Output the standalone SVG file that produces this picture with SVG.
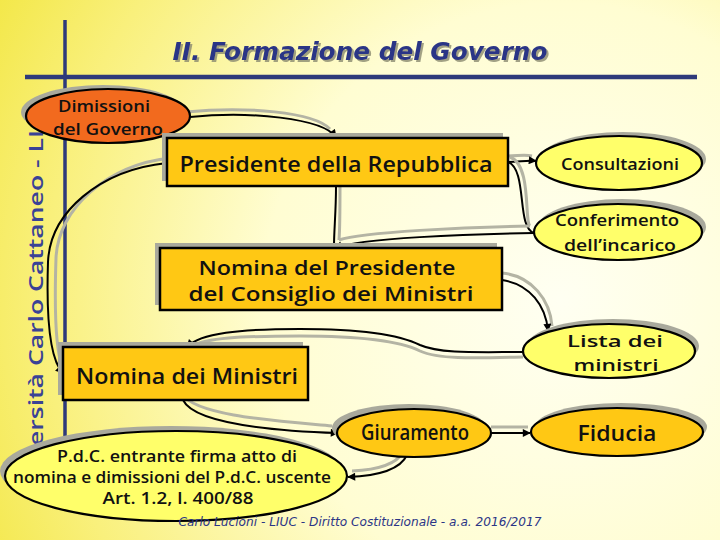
<svg xmlns="http://www.w3.org/2000/svg" width="720" height="540" viewBox="0 0 720 540">
<defs>
<radialGradient id="bg" cx="560" cy="300" r="660" gradientUnits="userSpaceOnUse">
<stop offset="0" stop-color="#FFFFF2"/>
<stop offset="0.45" stop-color="#FFFDD2"/>
<stop offset="0.78" stop-color="#F9F07C"/>
<stop offset="1" stop-color="#F2E640"/>
</radialGradient>
<marker id="arr" viewBox="0 0 10 10" refX="9" refY="5" markerWidth="9" markerHeight="8" markerUnits="userSpaceOnUse" orient="auto">
<path d="M0,0 L10,5 L0,10 Z" fill="#000"/>
</marker>
<filter id="tsh" x="-5%" y="-20%" width="110%" height="140%">
<feDropShadow dx="2" dy="2" stdDeviation="0.6" flood-color="#8a8a70" flood-opacity="0.8"/>
</filter>
</defs>
<style>
.lbl{font-family:"Open Sans","DejaVu Sans","Liberation Sans",sans-serif;font-weight:600;fill:#111;text-anchor:middle}
.box{fill:#FFC814;stroke:#000;stroke-width:2.5}
.sh{fill:#A9A99C}
.ely{fill:#FFFF6A;stroke:#000;stroke-width:2.2}
.elg{fill:#FFC814;stroke:#000;stroke-width:2.2}
.ln{fill:none;stroke:#000;stroke-width:2}
.gl{fill:none;stroke:#B4B4A4;stroke-width:3}
</style>
<rect width="720" height="540" fill="url(#bg)"/>
<g id="frame">
<line x1="65" y1="20" x2="65" y2="446" stroke="#2E3A7A" stroke-width="3.5"/>
<line x1="25" y1="77" x2="697" y2="77" stroke="#2E3A7A" stroke-width="4.5"/>
<text x="360" y="60" font-family="'DejaVu Sans',sans-serif" font-size="25" font-weight="bold" font-style="italic" fill="#2B3586" text-anchor="middle" textLength="375" lengthAdjust="spacingAndGlyphs" filter="url(#tsh)">II. Formazione del Governo</text>
<text transform="translate(43,446) rotate(-90)" font-family="'Open Sans','DejaVu Sans',sans-serif" font-size="20" font-weight="600" fill="#3A4296" textLength="316" lengthAdjust="spacingAndGlyphs">ersità Carlo Cattaneo - LI</text>
</g>
<g id="connectors">
<path class="gl" d="M186,112 C246,106 314,112 330,129"/>
<path class="ln" d="M190,117 C250,111 322,118 336,137" marker-end="url(#arr)"/>
<path class="gl" d="M508,156 C518,156 524,154 532,156"/>
<path class="ln" d="M508,162 C520,162 526,160 536,161" marker-end="url(#arr)"/>
<path class="gl" d="M510,157 C532,165 524,222 530,226"/>
<path class="ln" d="M508,162 C528,170 516,228 534,233"/>
<path class="gl" d="M530,226 C468,227 362,232 339,240"/>
<path class="ln" d="M534,233 C470,234 360,238 335,248" marker-end="url(#arr)"/>
<path class="gl" d="M340,186 C340,210 340,228 339,240"/>
<path class="ln" d="M336,186 C336,212 334,230 334,246"/>
<path class="gl" d="M502,273 C532,276 550,300 552,326"/>
<path class="ln" d="M502,280 C530,284 546,306 548,331" marker-end="url(#arr)"/>
<path class="gl" d="M523,357 C480,358 440,360 420,351 C400,341 360,336 300,336 C240,336 205,338 193,346"/>
<path class="ln" d="M523,352 C480,352 440,354 420,345 C400,335 360,329 300,329 C240,329 200,333 187,347" marker-end="url(#arr)"/>
<path class="gl" d="M170,158 C108,165 58,208 56,258 C54,318 56,350 62,366"/>
<path class="ln" d="M167,163 C100,170 50,212 48,262 C46,322 50,360 63,373" marker-end="url(#arr)"/>
<path class="gl" d="M182,394 C196,416 278,421 332,426"/>
<path class="ln" d="M183,400 C195,425 280,431 338,433" marker-end="url(#arr)"/>
<path class="gl" d="M403,452 C396,465 374,470 352,471"/>
<path class="ln" d="M407,455 C400,470 375,476 348,477" marker-end="url(#arr)"/>
<path class="gl" d="M491,427 L528,427"/>
<path class="ln" d="M491,433 L530,433" marker-end="url(#arr)"/>
</g>
<g id="dimissioni">
<ellipse class="sh" cx="103" cy="112" rx="82" ry="27"/>
<ellipse cx="108" cy="116" rx="82" ry="27" fill="#F26A1E" stroke="#000" stroke-width="2.2"/>
<text class="lbl" x="104" y="112" font-size="16" font-weight="500" textLength="92" lengthAdjust="spacingAndGlyphs">Dimissioni</text>
<text class="lbl" x="108" y="135" font-size="16" font-weight="500" textLength="110" lengthAdjust="spacingAndGlyphs">del Governo</text>
</g>
<g id="presidente-repubblica">
<rect class="sh" x="162" y="133" width="341" height="48"/>
<rect class="box" x="167" y="138" width="341" height="48"/>
<text class="lbl" x="336" y="172" font-size="21" textLength="313" lengthAdjust="spacingAndGlyphs">Presidente della Repubblica</text>
</g>
<g id="consultazioni">
<ellipse class="sh" cx="623" cy="159" rx="83" ry="27"/>
<ellipse class="ely" cx="619" cy="163" rx="83" ry="27"/>
<text class="lbl" x="620" y="170" font-size="17" textLength="118" lengthAdjust="spacingAndGlyphs">Consultazioni</text>
</g>
<g id="conferimento">
<ellipse class="sh" cx="622" cy="227" rx="84" ry="28"/>
<ellipse class="ely" cx="618" cy="232" rx="84" ry="28"/>
<text class="lbl" x="617" y="226" font-size="17" textLength="124" lengthAdjust="spacingAndGlyphs">Conferimento</text>
<text class="lbl" x="620" y="251" font-size="17" textLength="112" lengthAdjust="spacingAndGlyphs">dell’incarico</text>
</g>
<g id="nomina-presidente-consiglio">
<rect class="sh" x="155" y="243" width="342" height="62"/>
<rect class="box" x="160" y="248" width="342" height="62"/>
<text class="lbl" x="327" y="275" font-size="19.5" textLength="257" lengthAdjust="spacingAndGlyphs">Nomina del Presidente</text>
<text class="lbl" x="331" y="301" font-size="19.5" textLength="285" lengthAdjust="spacingAndGlyphs">del Consiglio dei Ministri</text>
</g>
<g id="lista-ministri">
<ellipse class="sh" cx="613" cy="346" rx="86" ry="27"/>
<ellipse class="ely" cx="609" cy="351" rx="86" ry="27"/>
<text class="lbl" x="615" y="347" font-size="17" textLength="96" lengthAdjust="spacingAndGlyphs">Lista dei</text>
<text class="lbl" x="616" y="371" font-size="17" textLength="85" lengthAdjust="spacingAndGlyphs">ministri</text>
</g>
<g id="nomina-ministri">
<rect class="sh" x="58" y="342" width="245" height="53"/>
<rect class="box" x="63" y="347" width="245" height="53"/>
<text class="lbl" x="187" y="384" font-size="22" textLength="222" lengthAdjust="spacingAndGlyphs">Nomina dei Ministri</text>
</g>
<g id="giuramento">
<ellipse class="sh" cx="409" cy="428" rx="77" ry="24"/>
<ellipse class="elg" cx="414" cy="433" rx="77" ry="24"/>
<text class="lbl" x="415" y="440" font-size="21" textLength="108" lengthAdjust="spacingAndGlyphs">Giuramento</text>
</g>
<g id="fiducia">
<ellipse class="sh" cx="621" cy="427" rx="86" ry="24"/>
<ellipse class="elg" cx="617" cy="432" rx="86" ry="24"/>
<text class="lbl" x="617" y="441" font-size="22" textLength="79" lengthAdjust="spacingAndGlyphs">Fiducia</text>
</g>
<g id="pdc">
<ellipse class="sh" cx="171" cy="471" rx="171" ry="45"/>
<ellipse class="ely" cx="176" cy="476" rx="171" ry="45"/>
<text class="lbl" x="177" y="462" font-size="16" font-weight="500" textLength="240" lengthAdjust="spacingAndGlyphs">P.d.C. entrante firma atto di</text>
<text class="lbl" x="172" y="483" font-size="16" font-weight="500" textLength="318" lengthAdjust="spacingAndGlyphs">nomina e dimissioni del P.d.C. uscente</text>
<text class="lbl" x="178" y="504" font-size="16" font-weight="500" textLength="151" lengthAdjust="spacingAndGlyphs">Art. 1.2, l. 400/88</text>
</g>
<g id="footer">
<text x="360" y="526" font-family="'DejaVu Sans',sans-serif" font-size="12" font-style="italic" fill="#2B3586" text-anchor="middle" textLength="363" lengthAdjust="spacingAndGlyphs">Carlo Lucioni - LIUC - Diritto Costituzionale - a.a. 2016/2017</text>
</g>
</svg>
